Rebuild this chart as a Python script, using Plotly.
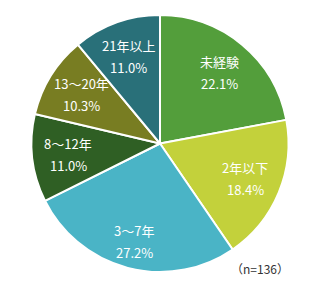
import math
import plotly.graph_objects as go

labels = ["未経験", "2年以下", "3～7年", "8～12年", "13～20年", "21年以上"]
counts = [30, 25, 37, 15, 14, 15]
colors = ["#539e3b", "#c3d13b", "#4ab4c6", "#2f5f24", "#787d22", "#297079"]
n_label = "（n=136）"

W, H = 320, 291
ml, mr, mt, mb = 31, 31, 15, 19
pw, ph = W - ml - mr, H - mt - mb
R = min(pw, ph) / 2

fig = go.Figure(go.Pie(
    labels=labels, values=counts, sort=False, direction="clockwise", rotation=0,
    marker=dict(colors=colors, line=dict(color="white", width=2)),
    textinfo="none", hoverinfo="label+percent", showlegend=False,
))

total = sum(counts)
cum = 0
ann = []
for lab, c in zip(labels, counts):
    mid = (cum + c / 2) / total * 2 * math.pi
    cum += c
    rf = 0.79 if c == max(counts) else 0.72
    dx = math.sin(mid) * R * rf
    dy = math.cos(mid) * R * rf
    x = 0.5 + dx / pw
    y = 0.5 + dy / ph
    pct = f"{c / total * 100:.1f}%"
    for txt, sh in ((lab, 11), (pct, -11)):
        ann.append(dict(x=x, y=y, xref="paper", yref="paper", text=txt, showarrow=False,
                        xanchor="center", yanchor="middle", yshift=sh,
                        font=dict(color="white", size=13, family="Noto Sans CJK JP")))

ann.append(dict(x=(260 - ml) / pw, y=1 - (268 - mt) / ph, xref="paper", yref="paper",
                text=n_label, showarrow=False, xanchor="center", yanchor="middle",
                font=dict(color="#333333", size=12, family="Noto Sans CJK JP")))

fig.update_layout(width=W, height=H, margin=dict(l=ml, r=mr, t=mt, b=mb),
                  paper_bgcolor="white", plot_bgcolor="white", annotations=ann)
fig.write_html("out.html")
